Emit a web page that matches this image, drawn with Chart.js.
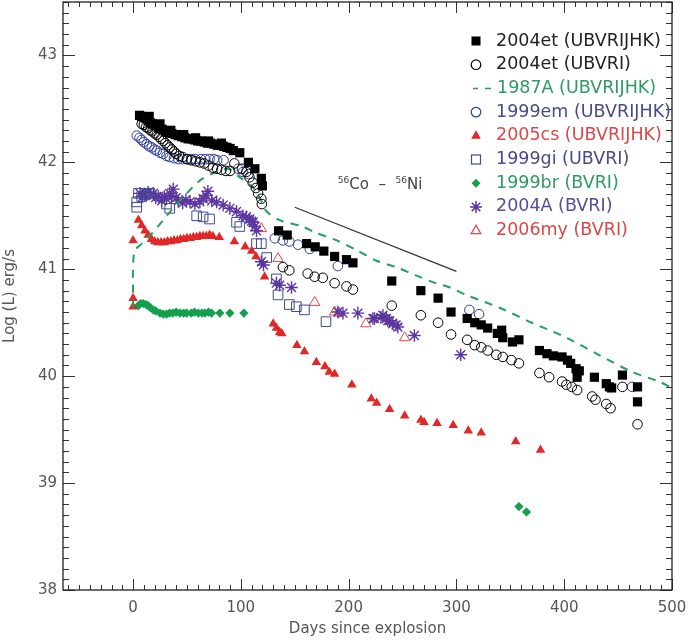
<!DOCTYPE html>
<html>
<head>
<meta charset="utf-8">
<script src="https://cdn.jsdelivr.net/npm/chart.js@4.4.1/dist/chart.umd.min.js"></script>
<style>
  html, body { margin: 0; padding: 0; background: #fff; }
  #wrap { width: 690px; height: 643px; }
</style>
</head>
<body>
<div id="wrap"><canvas id="chart" width="690" height="643"></canvas></div>
<script>
// ---------------- DATA ----------------
const xTicks = [0, 100, 200, 300, 400, 500];
const yTicks = [38, 39, 40, 41, 42, 43];

const seriesNames = ["2004et (UBVRIJHK)", "2004et (UBVRI)", "1987A (UBVRIJHK)", "1999em (UBVRIJHK)",
  "2005cs (UBVRIJHK)", "1999gi (UBVRI)", "1999br (BVRI)", "2004A (BVRI)", "2006my (BVRI)"];

// 2004et UBVRIJHK (filled squares)
const et04SqDays = [6, 8, 10, 12, 14, 15, 16, 18, 21, 24, 25, 27, 30, 33, 35, 36, 39, 42, 45, 47, 48, 51, 54, 57, 58, 60, 63, 66, 69, 70, 72, 75, 78, 81, 82, 84, 87, 90, 93,
  99, 107, 113, 119, 120,
  135, 143, 161, 169, 177, 187, 198, 204, 240, 267, 283, 295, 310, 317, 323, 329, 338, 342, 343, 352, 358,
  377, 384, 390, 398, 403, 406, 411, 414, 412, 428, 439, 442, 444, 454, 468, 468];
const et04SqLog = [42.44, 42.43, 42.42, 42.41, 42.39, 42.43, 42.37, 42.36, 42.34, 42.32, 42.36, 42.31, 42.29, 42.28, 42.30, 42.27, 42.26, 42.25, 42.24, 42.26, 42.23, 42.22, 42.22, 42.21, 42.23, 42.20, 42.20, 42.19, 42.18, 42.20, 42.18, 42.17, 42.16, 42.16, 42.18, 42.15, 42.14, 42.13, 42.11,
  42.09, 42.00, 41.94, 41.85, 41.78,
  41.36, 41.32, 41.24, 41.21, 41.17, 41.12, 41.09, 41.06, 40.89, 40.80, 40.73, 40.60, 40.54, 40.50, 40.48, 40.45, 40.40, 40.43, 40.36, 40.32, 40.34,
  40.24, 40.21, 40.19, 40.18, 40.15, 40.12, 40.07, 40.05, 39.99, 39.99, 39.93, 39.90, 39.89, 40.01, 39.90, 39.76];

// 2004et UBVRI (open circles)
const et04CiDays = [8, 10, 12, 14, 16, 18, 20, 22, 24, 26, 28, 30, 32, 34, 36, 38, 40, 43, 46, 50, 54, 58, 62, 66, 70, 74, 78, 82, 86, 90,
  94, 101, 105, 108, 111, 114, 116, 119, 119.5,
  139, 145, 162, 168.5, 176, 187, 198, 204, 240, 267, 283, 295, 310, 317, 323, 329, 337, 343, 351, 358,
  377, 386, 398, 402, 407, 412, 426, 429, 439, 443, 454, 468];
const et04CiLog = [42.36, 42.35, 42.33, 42.32, 42.30, 42.29, 42.27, 42.26, 42.24, 42.22, 42.20, 42.18, 42.16, 42.14, 42.12, 42.10, 42.08, 42.06, 42.05, 42.03, 42.02, 42.01, 42.00, 41.99, 41.97, 41.95, 41.94, 41.93, 41.92, 41.92,
  41.99, 41.94, 41.91, 41.86, 41.81, 41.76, 41.71, 41.66, 41.61,
  41.02, 40.99, 40.96, 40.93, 40.92, 40.87, 40.84, 40.81, 40.66, 40.57, 40.50, 40.39, 40.34, 40.29, 40.27, 40.24, 40.20, 40.18, 40.15, 40.12,
  40.03, 39.99, 39.95, 39.92, 39.90, 39.87, 39.81, 39.78, 39.74, 39.70, 39.90, 39.55];

// 1987A (dashed curve)
const sn87Days = [0, 1, 8, 17, 28, 37, 48, 62, 77, 88, 99, 111, 118, 124, 136, 157, 170, 189, 207, 226, 244, 263, 281, 294, 309, 340, 370, 402, 432, 463, 488, 500];
const sn87Log = [40.64, 41.16, 41.24, 41.33, 41.46, 41.57, 41.69, 41.83, 41.91, 41.94, 41.86, 41.77, 41.66, 41.54, 41.46, 41.40, 41.34, 41.27, 41.18, 41.08, 41.02, 40.94, 40.87, 40.83, 40.76, 40.64, 40.50, 40.36, 40.20, 40.04, 39.95, 39.89];

// 1999em (open circles)
const em99Days = [3.4, 6, 8, 10, 12.7, 15, 17.3, 20, 22, 25, 28, 31, 34, 38, 42, 46, 50, 54, 58, 63, 67, 71, 75, 78, 84, 97.5, 102, 107, 131.5, 139, 145, 153, 164, 190, 312, 321, 463];
const em99Log = [42.25, 42.23, 42.21, 42.19, 42.17, 42.15, 42.14, 42.12, 42.11, 42.09, 42.08, 42.06, 42.05, 42.04, 42.03, 42.03, 42.03, 42.03, 42.03, 42.03, 42.03, 42.03, 42.03, 42.02, 42.02, 41.94, 41.91, 41.89, 41.29, 41.27, 41.26, 41.23, 41.19, 41.03, 40.62, 40.58, 39.90];

// 2005cs (filled triangles)
const cs05Days = [0, 0, 0, 5, 8, 11, 14, 17, 20, 23, 26, 29, 32, 35, 38, 41, 44, 47, 50, 53, 56, 59, 62, 65, 68, 71, 74, 80, 94, 104, 110, 114, 122,
  130, 133, 136, 138, 152, 159, 170, 178, 182, 187, 203, 221, 226, 238, 252, 267, 270, 282, 297, 311, 323, 355, 378];
const cs05Log = [41.27, 40.73, 40.65, 41.46, 41.41, 41.36, 41.32, 41.28, 41.26, 41.25, 41.25, 41.25, 41.26, 41.26, 41.27, 41.27, 41.28, 41.28, 41.29, 41.29, 41.30, 41.30, 41.31, 41.31, 41.31, 41.32, 41.31, 41.30, 41.26, 41.21, 41.17, 41.12, 40.93,
  40.49, 40.45, 40.41, 40.40, 40.29, 40.23, 40.13, 40.09, 40.04, 40.02, 39.92, 39.79, 39.75, 39.69, 39.63, 39.59, 39.57, 39.56, 39.54, 39.49, 39.47, 39.39, 39.31];

// 1999gi (open squares)
const gi99Days = [3.4, 3.4, 5, 8, 12, 15.7, 31, 34, 59, 65, 71, 96, 99, 114.5, 119, 124, 133, 134.5, 145, 151.5, 159, 179];
const gi99Log = [41.63, 41.58, 41.71, 41.68, 41.70, 41.71, 41.61, 41.57, 41.50, 41.49, 41.47, 41.44, 41.40, 41.24, 41.24, 41.11, 40.91, 40.76, 40.67, 40.65, 40.62, 40.51];

// 1999br (filled diamonds)
const br99Days = [5, 7, 9.5, 12, 14, 16, 18.8, 21, 25, 28, 31, 34, 37, 40, 43.5, 47, 49.7, 54, 57, 60.5, 64, 66.7, 70, 72.8, 80.5, 89.8, 102.8, 358, 365];
const br99Log = [40.66, 40.68, 40.68, 40.67, 40.66, 40.64, 40.62, 40.61, 40.59, 40.58, 40.58, 40.59, 40.59, 40.60, 40.59, 40.59, 40.59, 40.59, 40.60, 40.59, 40.59, 40.59, 40.60, 40.59, 40.59, 40.59, 40.59, 38.78, 38.73];

// 2004A (asterisks)
const a04Days = [6.5, 9, 11, 14, 18.8, 21, 23.4, 26.5, 29, 31, 34, 35.8, 37.3, 40, 42, 46, 49, 52.8, 57.4, 62, 65, 68, 69.4, 73, 77.5, 83.6, 89.8, 96, 102, 105, 108.3, 110, 111.4, 113, 114.5,
  119, 121, 133, 136, 147, 190, 194.7, 208.6, 222.5, 224, 230, 231.8, 235, 236.4, 238, 241, 244, 245.6, 261, 304];
const a04Log = [41.71, 41.68, 41.69, 41.72, 41.71, 41.67, 41.68, 41.64, 41.68, 41.66, 41.71, 41.69, 41.75, 41.67, 41.64, 41.62, 41.65, 41.63, 41.61, 41.63, 41.66, 41.69, 41.73, 41.64, 41.63, 41.60, 41.57, 41.54, 41.50, 41.49, 41.47, 41.45, 41.44, 41.40, 41.36,
  41.07, 41.04, 40.87, 40.85, 40.83, 40.60, 40.59, 40.59, 40.54, 40.54, 40.55, 40.57, 40.54, 40.52, 40.52, 40.49, 40.48, 40.46, 40.38, 40.20];

// 2006my (open triangles)
const my06Days = [119, 134.5, 168.5, 187, 191, 216, 252];
const my06Log = [41.38, 41.10, 40.69, 40.60, 40.59, 40.49, 40.36];

// 56Co -> 56Ni decay slope guide
const coDays = [150, 300];
const coLog = [41.58, 40.98];

// ---------------- STYLE ----------------
const FONT = "'DejaVu Sans', sans-serif";
const AXIS_TXT = "#555";
const PLOT_TOP = 2; // px from canvas top to the upper frame line
const colors = ["#000000", "#000000", "#22a05c", "#2f3f99", "#e02828", "#3d4b8f", "#13a04c", "#5c35a0", "#e04848"];
const textColors = ["#222", "#222", "#2e9a63", "#4a4a8a", "#d84848", "#4a4a8a", "#2e9a63", "#5a4a9a", "#d84848"];
const markers = ["sqFill", "circle", "dash", "circle", "triFill", "sqOpen", "diamond", "star", "triOpen"];

function pts(xs, ys) {
    return xs.map((v, i) => ({ x: v, y: ys[i] }));
}

function scatterSet(xs, ys, i, style, radius, filled, bw) {
    return {
        label: seriesNames[i],
        data: pts(xs, ys),
        pointStyle: style,
        pointRadius: radius,
        borderWidth: bw,
        borderColor: colors[i],
        backgroundColor: filled ? colors[i] : "rgba(0,0,0,0)",
        showLine: false
    };
}

// ---------------- PLUGINS ----------------
// pull the plot area up to the top edge (Chart.js keeps a few px of label room there)
const fixTopPlugin = {
    id: "fixTop",
    afterLayout(chart) {
        const y = chart.scales.y;
        const d = y.top - PLOT_TOP;
        if (d !== 0) {
            y.top = PLOT_TOP;
            y.height += d;
            chart.chartArea.top = PLOT_TOP;
            chart.chartArea.height = chart.chartArea.bottom - PLOT_TOP;
            y.configure();
        }
    }
};

const framePlugin = {
    id: "frame",
    afterDraw(chart) {
        const { ctx, chartArea: a, scales: { x, y } } = chart;
        ctx.save();
        ctx.strokeStyle = "#333";
        ctx.lineWidth = 1;
        ctx.beginPath();
        for (let d = -60; d <= 500; d += 10) {
            const px = Math.round(x.getPixelForValue(d)) + 0.5;
            const len = d % 100 === 0 ? 11 : 5;
            ctx.moveTo(px, a.bottom); ctx.lineTo(px, a.bottom - len);
            ctx.moveTo(px, a.top); ctx.lineTo(px, a.top + len);
        }
        for (let i = 380; i <= 435; i++) {
            const py = Math.round(y.getPixelForValue(i / 10)) + 0.5;
            const len = i % 10 === 0 ? 12 : 6;
            ctx.moveTo(a.left, py); ctx.lineTo(a.left + len, py);
            ctx.moveTo(a.right, py); ctx.lineTo(a.right - len, py);
        }
        ctx.stroke();
        ctx.strokeStyle = "#222";
        ctx.lineWidth = 1.3;
        ctx.strokeRect(a.left, a.top, a.right - a.left, a.bottom - a.top);

        // annotation 56Co - 56Ni
        const tx = x.getPixelForValue(190), ty = y.getPixelForValue(41.75);
        ctx.fillStyle = "#444";
        ctx.textBaseline = "alphabetic";
        ctx.textAlign = "left";
        let cx = tx;
        const parts = [["56", 9, -6], ["Co", 15, 0], ["  \u2013  ", 15, 0], ["56", 9, -6], ["Ni", 15, 0]];
        parts.forEach(([t, s, dy]) => {
            ctx.font = s + "px " + FONT;
            ctx.fillText(t, cx, ty + dy);
            cx += ctx.measureText(t).width;
        });
        ctx.restore();
    }
};

function drawMarker(ctx, kind, color, cx, cy) {
    ctx.save();
    ctx.strokeStyle = color;
    ctx.fillStyle = color;
    ctx.lineWidth = 1.2;
    ctx.beginPath();
    if (kind === "sqFill") {
        ctx.fillRect(cx - 4.5, cy - 4.5, 9, 9);
    } else if (kind === "sqOpen") {
        ctx.strokeRect(cx - 4.5, cy - 4.5, 9, 9);
    } else if (kind === "circle") {
        ctx.arc(cx, cy, 4.8, 0, Math.PI * 2);
        ctx.stroke();
    } else if (kind === "triFill" || kind === "triOpen") {
        ctx.moveTo(cx, cy - 5.5);
        ctx.lineTo(cx + 4.8, cy + 3);
        ctx.lineTo(cx - 4.8, cy + 3);
        ctx.closePath();
        if (kind === "triFill") ctx.fill(); else ctx.stroke();
    } else if (kind === "diamond") {
        ctx.moveTo(cx, cy - 4.5); ctx.lineTo(cx + 4.5, cy); ctx.lineTo(cx, cy + 4.5); ctx.lineTo(cx - 4.5, cy);
        ctx.closePath();
        ctx.fill();
    } else if (kind === "star") {
        const r = 6;
        ctx.lineWidth = 1.5;
        for (let k = 0; k < 4; k++) {
            const ang = k * Math.PI / 4;
            ctx.moveTo(cx - r * Math.cos(ang), cy - r * Math.sin(ang));
            ctx.lineTo(cx + r * Math.cos(ang), cy + r * Math.sin(ang));
        }
        ctx.stroke();
    } else if (kind === "dash") {
        ctx.lineWidth = 1.5;
        ctx.moveTo(cx - 3, cy); ctx.lineTo(cx + 2, cy);
        ctx.moveTo(cx + 9, cy); ctx.lineTo(cx + 15, cy);
        ctx.stroke();
    }
    ctx.restore();
}

const legendPlugin = {
    id: "sideLegend",
    afterDraw(chart) {
        const ctx = chart.ctx;
        ctx.save();
        ctx.font = "17.5px " + FONT;
        ctx.textBaseline = "middle";
        ctx.textAlign = "left";
        seriesNames.forEach((name, i) => {
            const ly = 41 + i * 23.7;
            drawMarker(ctx, markers[i], colors[i], 476, ly);
            ctx.fillStyle = textColors[i];
            ctx.fillText(name, markers[i] === "dash" ? 497 : 496, ly);
        });
        ctx.restore();
    }
};

// ---------------- CHART ----------------
const ctx = document.getElementById("chart").getContext("2d");
new Chart(ctx, {
    type: "scatter",
    data: {
        datasets: [
            scatterSet(et04SqDays, et04SqLog, 0, "rect", 6.5, true, 0),
            scatterSet(et04CiDays, et04CiLog, 1, "circle", 4.8, false, 1),
            {
                label: seriesNames[2],
                data: pts(sn87Days, sn87Log),
                showLine: true,
                pointRadius: 0,
                borderColor: colors[2],
                borderWidth: 2,
                borderDash: [8, 7],
                tension: 0.3,
                fill: false
            },
            scatterSet(em99Days, em99Log, 3, "circle", 4.8, false, 1),
            scatterSet(cs05Days, cs05Log, 4, "triangle", 5.5, true, 0),
            scatterSet(gi99Days, gi99Log, 5, "rect", 6.8, false, 1),
            scatterSet(br99Days, br99Log, 6, "rectRot", 4.6, true, 0),
            scatterSet(a04Days, a04Log, 7, "star", 6.3, false, 1.4),
            scatterSet(my06Days, my06Log, 8, "triangle", 6, false, 1),
            {
                label: "56Co - 56Ni",
                data: pts(coDays, coLog),
                showLine: true,
                pointRadius: 0,
                borderColor: "#333",
                borderWidth: 1.2
            }
        ]
    },
    options: {
        responsive: false,
        animation: false,
        events: [],
        layout: { padding: { top: 2, right: 18, left: 0, bottom: 0 } },
        plugins: {
            legend: { display: false },
            tooltip: { enabled: false }
        },
        scales: {
            x: {
                type: "linear",
                min: -65,
                max: 500,
                afterBuildTicks: s => { s.ticks = xTicks.map(v => ({ value: v })); },
                afterFit: s => { s.height = 53; s.paddingLeft = 0; s.paddingRight = 0; },
                grid: { display: false, drawTicks: false },
                border: { display: false },
                ticks: { color: AXIS_TXT, font: { family: FONT, size: 15 }, padding: 9, maxRotation: 0 },
                title: { display: true, text: "Days since explosion", color: AXIS_TXT, font: { family: FONT, size: 15 }, padding: { top: 0, bottom: 5 } }
            },
            y: {
                type: "linear",
                min: 38,
                max: 43.5,
                afterBuildTicks: s => { s.ticks = yTicks.map(v => ({ value: v })); },
                afterFit: s => { s.width = 63; s.paddingTop = 0; s.paddingBottom = 0; },
                grid: { display: false, drawTicks: false },
                border: { display: false },
                ticks: { color: AXIS_TXT, font: { family: FONT, size: 15 }, padding: 6 },
                title: { display: true, text: "Log (L) erg/s", color: AXIS_TXT, font: { family: FONT, size: 15 }, padding: { top: 1, bottom: 0 } }
            }
        }
    },
    plugins: [fixTopPlugin, framePlugin, legendPlugin]
});
</script>
</body>
</html>
